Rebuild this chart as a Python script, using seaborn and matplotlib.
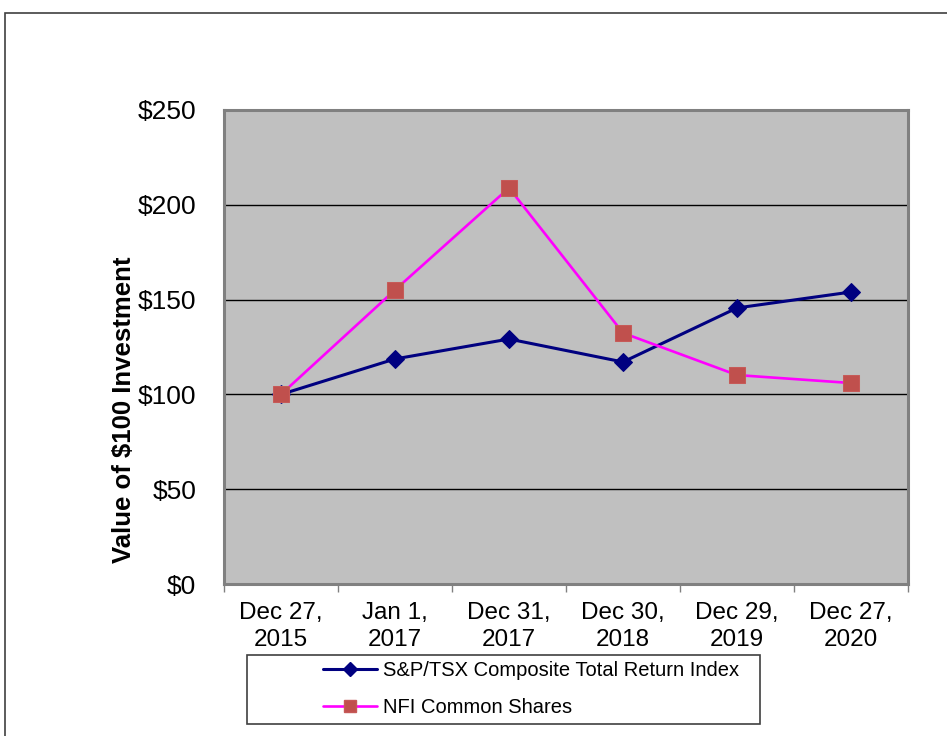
import matplotlib
matplotlib.use("Agg")
import matplotlib.pyplot as plt
import seaborn as sns
import pandas as pd
from matplotlib.patches import Rectangle
from matplotlib.lines import Line2D

# ── Data ────────────────────────────────────────────────
dates = ["Dec 27,\n2015", "Jan 1,\n2017", "Dec 31,\n2017",
         "Dec 30,\n2018", "Dec 29,\n2019", "Dec 27,\n2020"]
tsx_values = [100, 118.7, 129.2, 117.1, 145.6, 154.0]
nfi_values = [100, 155.1, 208.9, 132.4, 110.2, 106.0]
series_names = ["S&P/TSX Composite Total Return Index", "NFI Common Shares"]
y_ticks = [0, 50, 100, 150, 200, 250]

sns.set_theme(style="white")
plt.rcParams["font.family"] = ["Liberation Sans", "DejaVu Sans"]
plt.rcParams["text.color"] = "black"
plt.rcParams["xtick.color"] = "black"
plt.rcParams["ytick.color"] = "black"
plt.rcParams["xtick.labelcolor"] = "black"
plt.rcParams["ytick.labelcolor"] = "black"

W, H = 947, 736
fig = plt.figure(figsize=(W / 100, H / 100), dpi=100)
ax = fig.add_axes([224 / W, 1 - 584 / H, 684 / W, 474 / H])
ax.set_facecolor("#C0C0C0")

pos = list(range(len(dates)))
df = pd.DataFrame({"pos": pos, "tsx": tsx_values, "nfi": nfi_values})

for y in y_ticks[1:-1]:
    ax.axhline(y, color="black", lw=1, zorder=1)

sns.lineplot(data=df, x="pos", y="tsx", ax=ax, color="#000080", lw=2.2,
             marker="D", markersize=9, markeredgecolor="#000080",
             markerfacecolor="#000080", zorder=3)
sns.lineplot(data=df, x="pos", y="nfi", ax=ax, color="#FF00FF", lw=1.9,
             marker="s", markersize=11, markeredgecolor="#C65A58",
             markerfacecolor="#C0504D", zorder=4)

ax.set_xlim(-0.5, len(dates) - 0.5)
ax.set_ylim(0, 250)
ax.set_yticks(y_ticks)
ax.set_yticklabels([f"${v}" for v in y_ticks], fontsize=19)
ax.set_xticks(pos)
ax.set_xticklabels(dates, fontsize=17.5, linespacing=1.3)
ax.set_xticks([p - 0.5 for p in range(len(dates) + 1)], minor=True)
ax.tick_params(axis="x", which="major", length=0, pad=13)
ax.tick_params(axis="x", which="minor", length=6, width=1, color="#808080",
               direction="out", bottom=True)
ax.tick_params(axis="y", length=0, pad=20)
ax.set_xlabel("")
ax.set_ylabel("")
for s in ax.spines.values():
    s.set_visible(True)
    s.set_color("#808080")
    s.set_linewidth(2.2)

fig.text(124 / W, 1 - 410 / H, "Value of $100 Investment", rotation=90,
         ha="center", va="center", fontsize=18.5, fontweight="bold")

# outer border and legend box
fig.add_artist(Rectangle((5 / W, -0.05), 1.0, 1 - 13 / H + 0.05,
                         transform=fig.transFigure, fill=False,
                         edgecolor="#404040", lw=1.2))
fig.add_artist(Rectangle((247 / W, 1 - 724 / H), 513 / W, 69 / H,
                         transform=fig.transFigure, fill=False,
                         edgecolor="#404040", lw=1.2))

handles = [
    Line2D([], [], color="#000080", lw=2.2, marker="D", markersize=7,
           markerfacecolor="#000080"),
    Line2D([], [], color="#FF00FF", lw=1.9, marker="s", markersize=9,
           markerfacecolor="#C0504D", markeredgecolor="#C65A58"),
]
fig.legend(handles, series_names, loc="upper left",
           bbox_to_anchor=(323 / W, 1 - 661 / H), frameon=False,
           fontsize=14.5, handlelength=2.7, handletextpad=0.3,
           labelspacing=0.9, borderpad=0, borderaxespad=0)

fig.savefig("out.png", dpi=100)
